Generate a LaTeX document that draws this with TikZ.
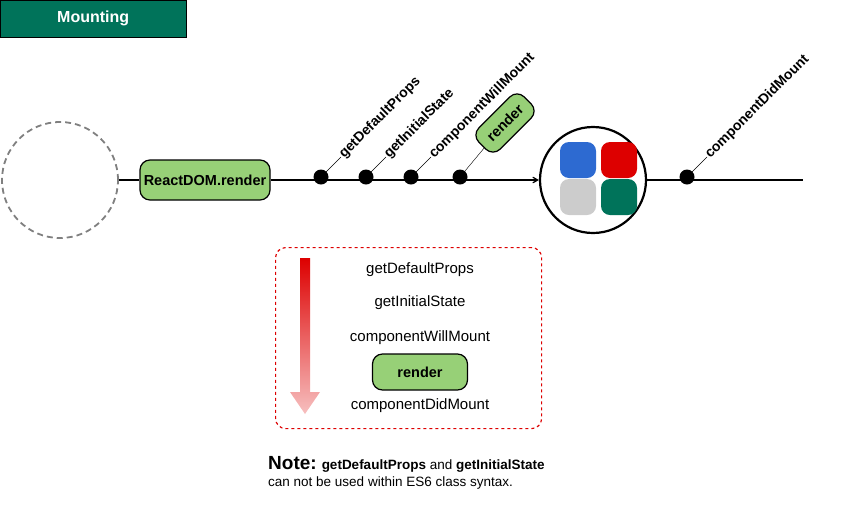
\documentclass[tikz,border=0pt]{standalone}
\usepackage{fontspec}
\setmainfont{Liberation Sans}
\usetikzlibrary{positioning, arrows}
\definecolor{my_green}{RGB}{151, 208, 119}
\definecolor{my_teal}{RGB}{0, 115, 90}
\definecolor{my_blue}{RGB}{45, 106, 209}
\definecolor{my_red}{RGB}{221, 0, 0}
\definecolor{my_gray}{RGB}{204, 204, 204}
\tikzset {
  pill/.style = {draw, line width=1.2pt, fill=my_green, rounded corners=10pt, text centered, font=\fontsize{14.5}{16}\selectfont\bfseries},
  tile/.style = {fill=#1, rounded corners=9pt, minimum size=36pt, inner sep=0},
  dot/.style = {circle, fill=black, minimum size=15pt, inner sep=0},
  hook/.style = {rotate=45, anchor=west, inner sep=1pt, font=\fontsize{14}{16}\selectfont\bfseries},
  callname/.style = {font=\fontsize{15}{17}\selectfont},
  line/.style = {line width=1.2pt, color=black}
}
\begin{document}
\begin{tikzpicture}[x=1pt, y=-1pt]
    \useasboundingbox (0,0) rectangle (849,507);

    \node[draw, fill=my_teal, minimum width=186pt, minimum height=37pt, anchor=north west, text=white, font=\fontsize{16}{18}\selectfont\bfseries] (title) at (0,0) {Mounting};

    \node[draw, gray, line width=1.8pt, dash pattern=on 6pt off 4pt, circle, minimum size=116pt] (empty) at (60,180) {};
    \node[pill, minimum width=130pt, minimum height=40pt] (rdr) at (205,180) {ReactDOM.render};
    \node[draw, line width=2.2pt, circle, minimum size=106pt] (comp) at (593,180) {};
    \node[tile=my_blue] (t1) at (578,160) {};
    \node[tile=my_red] (t2) at (619,160) {};
    \node[tile=my_gray] (t3) at (578,197) {};
    \node[tile=my_teal] (t4) at (619,197) {};
    \coordinate (tail) at (803,180);

    \draw[line] (empty) -- (rdr);
    \draw[line, ->, >=angle 60] (rdr) -- (comp);
    \draw[line] (comp) -- (tail);

    % hooks on the time line
    \foreach \x/\name/\txt in {321/gdp/getDefaultProps, 366/gis/getInitialState, 411/cwm/componentWillMount, 687/cdm/componentDidMount} {
      \node[dot] (\name) at (\x,177) {};
      \draw (\name.center) -- ++(20,-20) node[hook] {\txt};
    }
    \node[dot] (rn) at (460,177) {};
    \node[pill, rotate=45, minimum width=64pt, minimum height=30pt] (rpill) at (505,123) {render};
    \draw (rn.center) -- (rpill);

    % order of calls
    \node[draw, my_red, line width=1.2pt, dash pattern=on 3pt off 3pt, rounded corners=10pt, minimum width=266pt, minimum height=181pt, anchor=north west] (order) at (275,247) {};
    \shade[top color=my_red, bottom color=my_red!25] (300,258) -- (310,258) -- (310,392) -- (320,392) -- (305,414) -- (290,392) -- (300,392) -- cycle;
    \node[callname] (s1) at (420,270) {getDefaultProps};
    \node[callname] (s2) at (420,303) {getInitialState};
    \node[callname] (s3) at (420,338) {componentWillMount};
    \node[pill, minimum width=95pt, minimum height=36pt] (s4) at (420,372) {render};
    \node[callname] (s5) at (420,406) {componentDidMount};

    \node[anchor=west, inner sep=0, font=\fontsize{13.5}{15}\selectfont] (note) at (268,464) {{\fontsize{19}{21}\selectfont\bfseries Note:} \textbf{getDefaultProps} and \textbf{getInitialState}};
    \node[anchor=west, inner sep=0, font=\fontsize{13.5}{15}\selectfont] (note2) at (268,483) {can not be used within ES6 class syntax.};
\end{tikzpicture}
\end{document}
